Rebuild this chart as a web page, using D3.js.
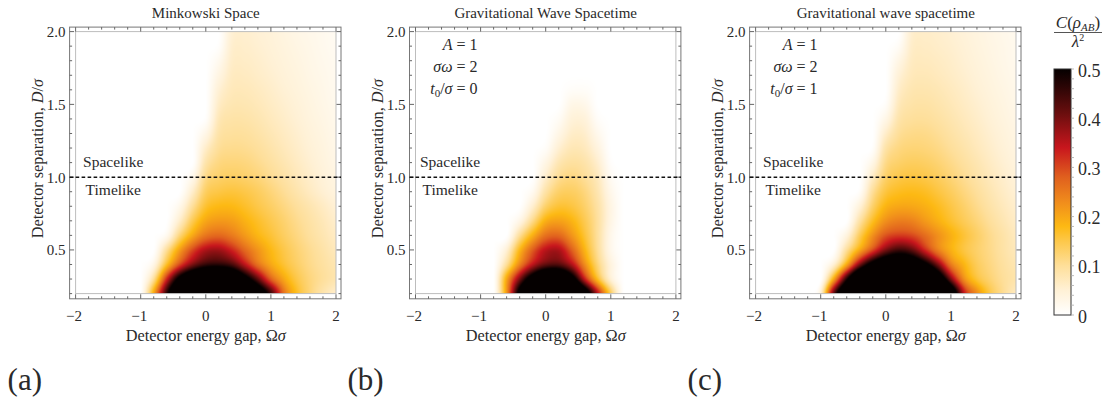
<!DOCTYPE html>
<html><head><meta charset="utf-8">
<script src="https://cdn.jsdelivr.net/npm/d3@7"></script>
<style>body{margin:0;background:#fff;}</style>
</head><body>
<svg id="chart" width="1109" height="398"></svg>
<script>
// ---------- data ----------
const omega = [-2.0,-1.8,-1.6,-1.4,-1.2,-1.0,-0.8,-0.6,-0.4,-0.2,0.0,0.2,0.4,0.6,0.8,1.0,1.2,1.4,1.6,1.8,2.0];
const separation = [2.0,1.9,1.8,1.7,1.6,1.5,1.4,1.3,1.2,1.1,1.0,0.9,0.8,0.7,0.6,0.5,0.4,0.3,0.2];

const minkowski = [
[0,0,0,0,0,0,0,0,0,0,0,0,.05,.055,.05,.045,.037,.03,.025,.02,.015],
[0,0,0,0,0,0,0,0,0,0,0,.005,.055,.058,.053,.047,.04,.033,.027,.021,.016],
[0,0,0,0,0,0,0,0,0,0,0,.02,.06,.062,.057,.05,.043,.036,.029,.023,.018],
[0,0,0,0,0,0,0,0,0,0,0,.035,.066,.067,.061,.054,.046,.039,.031,.025,.019],
[0,0,0,0,0,0,0,0,0,0,0,.05,.072,.073,.067,.059,.05,.042,.034,.027,.02],
[0,0,0,0,0,0,0,0,0,0,0,.062,.079,.079,.073,.064,.055,.046,.037,.029,.022],
[0,0,0,0,0,0,0,0,0,0,.005,.075,.088,.087,.08,.07,.06,.05,.04,.032,.024],
[0,0,0,0,0,0,0,0,0,0,.03,.087,.097,.096,.088,.077,.066,.055,.044,.035,.026],
[0,0,0,0,0,0,0,0,0,0,.06,.1,.107,.105,.097,.085,.072,.06,.048,.038,.028],
[0,0,0,0,0,0,0,0,0,0,.085,.115,.12,.117,.107,.094,.08,.066,.053,.041,.031],
[0,0,0,0,0,0,0,0,0,.025,.11,.13,.135,.13,.12,.105,.09,.074,.059,.046,.035],
[0,0,0,0,0,0,0,0,0,.06,.135,.152,.157,.15,.137,.12,.102,.084,.067,.052,.04],
[0,0,0,0,0,0,0,0,.025,.1,.163,.18,.18,.167,.15,.133,.115,.097,.081,.065,.05],
[0,0,0,0,0,0,0,0,.06,.145,.2,.215,.21,.188,.167,.147,.127,.107,.09,.074,.058],
[0,0,0,0,0,0,0,.02,.12,.2,.255,.27,.25,.215,.183,.16,.136,.115,.096,.08,.065],
[0,0,0,0,0,0,0,.1,.21,.3,.36,.37,.33,.27,.22,.18,.15,.125,.105,.088,.072],
[0,0,0,0,0,0,.03,.17,.3,.4,.46,.47,.44,.35,.26,.2,.162,.133,.11,.094,.08],
[0,0,0,0,0,0,.1,.33,.54,.68,.75,.75,.7,.56,.42,.28,.2,.15,.118,.098,.082],
[0,0,0,0,0,0,.2,.47,.72,.9,1,1,.95,.8,.62,.45,.26,.17,.12,.085,.06]
];

const gwT0 = [
[0,0,0,0,0,0,0,0,0,0,0,0,0,0,0,0,0,0,0,0,0],
[0,0,0,0,0,0,0,0,0,0,0,0,0,0,0,0,0,0,0,0,0],
[0,0,0,0,0,0,0,0,0,0,0,0,0,0,0,0,0,0,0,0,0],
[0,0,0,0,0,0,0,0,0,0,0,0,0,0,0,0,0,0,0,0,0],
[0,0,0,0,0,0,0,0,0,0,0,0,.008,.008,0,0,0,0,0,0,0],
[0,0,0,0,0,0,0,0,0,0,0,0,.028,.025,0,0,0,0,0,0,0],
[0,0,0,0,0,0,0,0,0,0,0,.012,.045,.043,.008,0,0,0,0,0,0],
[0,0,0,0,0,0,0,0,0,0,0,.03,.06,.057,.022,0,0,0,0,0,0],
[0,0,0,0,0,0,0,0,0,0,.008,.052,.076,.07,.038,0,0,0,0,0,0],
[0,0,0,0,0,0,0,0,0,0,.032,.078,.095,.086,.055,.005,0,0,0,0,0],
[0,0,0,0,0,0,0,0,0,0,.058,.103,.115,.1,.07,.015,0,0,0,0,0],
[0,0,0,0,0,0,0,0,0,.018,.09,.13,.135,.117,.08,.025,0,0,0,0,0],
[0,0,0,0,0,0,0,0,0,.055,.13,.16,.155,.13,.09,.033,0,0,0,0,0],
[0,0,0,0,0,0,0,0,.03,.11,.19,.205,.185,.145,.095,.032,0,0,0,0,0],
[0,0,0,0,0,0,0,0,.1,.19,.26,.27,.22,.16,.095,.025,0,0,0,0,0],
[0,0,0,0,0,0,0,.05,.18,.28,.35,.36,.28,.185,.1,.025,0,0,0,0,0],
[0,0,0,0,0,0,0,.1,.24,.35,.42,.43,.36,.23,.12,.04,0,0,0,0,0],
[0,0,0,0,0,0,0,.2,.4,.58,.72,.72,.57,.34,.17,.05,0,0,0,0,0],
[0,0,0,0,0,0,0,.22,.55,.8,.95,.95,.85,.6,.35,.14,0,0,0,0,0]
];

const gwT1 = [
[0,0,0,0,0,0,0,0,0,0,0,0,.055,.06,.057,.052,.045,.038,.031,.025,.02],
[0,0,0,0,0,0,0,0,0,0,0,.012,.06,.064,.06,.055,.048,.04,.033,.027,.021],
[0,0,0,0,0,0,0,0,0,0,0,.032,.066,.069,.065,.059,.051,.043,.035,.028,.022],
[0,0,0,0,0,0,0,0,0,0,0,.048,.072,.075,.07,.063,.055,.046,.038,.03,.024],
[0,0,0,0,0,0,0,0,0,0,0,.06,.08,.082,.077,.069,.06,.05,.041,.033,.026],
[0,0,0,0,0,0,0,0,0,0,.008,.072,.088,.09,.084,.075,.065,.055,.045,.036,.028],
[0,0,0,0,0,0,0,0,0,0,.03,.085,.098,.099,.092,.082,.071,.06,.049,.039,.031],
[0,0,0,0,0,0,0,0,0,0,.06,.1,.11,.11,.102,.09,.078,.066,.054,.043,.034],
[0,0,0,0,0,0,0,0,0,.005,.088,.115,.122,.12,.112,.099,.086,.072,.059,.047,.037],
[0,0,0,0,0,0,0,0,0,.03,.11,.13,.137,.134,.124,.11,.095,.08,.065,.052,.041],
[0,0,0,0,0,0,0,0,0,.065,.13,.15,.155,.15,.138,.122,.105,.088,.072,.058,.046],
[0,0,0,0,0,0,0,0,.008,.1,.155,.172,.176,.17,.155,.137,.117,.098,.08,.064,.051],
[0,0,0,0,0,0,0,0,.045,.13,.185,.2,.2,.19,.173,.152,.13,.108,.088,.071,.057],
[0,0,0,0,0,0,0,0,.09,.17,.225,.245,.24,.215,.19,.165,.142,.12,.098,.079,.063],
[0,0,0,0,0,0,0,.04,.14,.225,.29,.31,.3,.265,.225,.19,.16,.133,.108,.088,.07],
[0,0,0,0,0,0,0,.1,.2,.3,.4,.45,.42,.33,.245,.19,.155,.13,.11,.09,.073],
[0,0,0,0,0,0,.05,.2,.4,.56,.66,.68,.64,.54,.4,.25,.185,.14,.115,.095,.08],
[0,0,0,0,0,0,.2,.48,.75,.9,1,1,.95,.85,.65,.4,.23,.16,.125,.1,.085],
[0,0,0,0,0,.05,.42,.7,.9,1,1,1,1,1,1,.65,.35,.23,.15,.105,.07]
];

const panelTitles = ["Minkowski Space","Gravitational Wave Spacetime","Gravitational wave spacetime"];
const panelTags = ["(a)","(b)","(c)"];
const t0Values = [null, 0, 1];
const xTicks = [-2,-1,0,1,2];
const yTicks = [0.5,1.0,1.5,2.0];
const cbTicks = [0,0.1,0.2,0.3,0.4,0.5];
const colorStops = [0,0.05,0.1,0.15,0.18,0.23,0.28,0.34,0.41,0.465,0.5];
const colorValues = ["#ffffff","#fff1d6","#fedf9a","#fdc84a","#fdb913","#f08c1c","#e0601e","#c8161d","#6a0e0e","#2a0505","#050000"];

// ---------- layout ----------
const datasets = [minkowski, gwT0, gwT1];
const panelLeft = [75.6, 415.5, 755.6];
const plotW = 260.4, plotTop = 31.6, plotBottom = 293.6;
const padL = 6, padR = 5, padT = 4.5, padB = 5.2;
const labelDx = [7.5, 4.5, 7.5];
const FONT = "'Liberation Serif'";
const INK = "#2a2a2a";

const svg = d3.select("#chart");
const color = d3.scaleLinear().domain(colorStops).range(colorValues).clamp(true);
const LUTN = 1000;
const lut = d3.range(LUTN + 1).map(i => d3.rgb(color(i / LUTN * 0.5)));

function cr(p0, p1, p2, p3, t) {
  return 0.5 * (2*p1 + (-p0 + p2)*t + (2*p0 - 5*p1 + 4*p2 - p3)*t*t + (-p0 + 3*p1 - 3*p2 + p3)*t*t*t);
}
// smooth (Catmull-Rom) rendering of the grid
function sample(grid, om, d) {
  const nx = omega.length, ny = separation.length;
  let fx = (om - omega[0]) / (omega[1] - omega[0]);
  let fy = (separation[0] - d) / (separation[0] - separation[1]);
  fx = Math.max(0, Math.min(nx - 1.000001, fx));
  fy = Math.max(0, Math.min(ny - 1.000001, fy));
  const i = Math.floor(fx), j = Math.floor(fy), tx = fx - i, ty = fy - j;
  const i0 = Math.max(0, i - 1), i3 = Math.min(nx - 1, i + 2);
  const r = [];
  for (let m = -1; m <= 2; m++) {
    const row = grid[Math.max(0, Math.min(ny - 1, j + m))];
    r.push(cr(row[i0], row[i], row[i + 1], row[i3], tx));
  }
  return Math.max(0, cr(r[0], r[1], r[2], r[3], ty));
}

function txt(g) { return g.append("text").style("font-family", FONT).attr("fill", INK); }

datasets.forEach((grid, k) => {
  const x = d3.scaleLinear().domain([-2, 2]).range([panelLeft[k], panelLeft[k] + plotW]);
  const y = d3.scaleLinear().domain([0.2, 2.0]).range([plotBottom, plotTop]);
  const g = svg.append("g");

  const x0 = x(-2), x1 = x(2), y0 = y(2.0), y1 = y(0.2);
  const S = 2;
  const W = Math.round((x1 - x0) * S), H = Math.round((y1 - y0) * S);
  const cv = document.createElement("canvas");
  cv.width = W; cv.height = H;
  const ctx = cv.getContext("2d");
  const img = ctx.createImageData(W, H);
  const data = img.data;
  for (let py = 0; py < H; py++) {
    const d = y.invert(y0 + (py + 0.5) * (y1 - y0) / H);
    for (let px = 0; px < W; px++) {
      const om = x.invert(x0 + (px + 0.5) * (x1 - x0) / W);
      const v = sample(grid, om, d);
      const c = lut[Math.min(LUTN, Math.round(v / 0.5 * LUTN))];
      const o = (py * W + px) * 4;
      data[o] = c.r; data[o+1] = c.g; data[o+2] = c.b; data[o+3] = 255;
    }
  }
  ctx.putImageData(img, 0, 0);
  g.append("image").attr("x", x0).attr("y", y0).attr("width", x1 - x0).attr("height", y1 - y0)
    .attr("preserveAspectRatio", "none").attr("href", cv.toDataURL());

  g.append("rect").attr("x", x0).attr("y", y0).attr("width", x1 - x0).attr("height", y1 - y0)
    .attr("fill", "none").attr("stroke", "#bdbdbd").attr("stroke-width", 1);

  const fl = x0 - padL, fr = x1 + padR, ft = y0 - padT, fb = y1 + padB;
  g.append("rect").attr("x", fl).attr("y", ft).attr("width", fr - fl).attr("height", fb - ft)
    .attr("fill", "none").attr("stroke", "#777").attr("stroke-width", 1);

  const xMinor = d3.range(-2, 2.0001, 0.2).map(v => +v.toFixed(2));
  xMinor.forEach(v => {
    const major = xTicks.some(t => Math.abs(t - v) < 1e-6);
    const len = major ? 4.5 : 2.5;
    g.append("line").attr("x1", x(v)).attr("x2", x(v)).attr("y1", fb).attr("y2", fb - len).attr("stroke", "#666");
    g.append("line").attr("x1", x(v)).attr("x2", x(v)).attr("y1", ft).attr("y2", ft + len).attr("stroke", "#666");
  });
  const yMinor = d3.range(0.2, 2.0001, 0.1).map(v => +v.toFixed(2));
  yMinor.forEach(v => {
    const major = yTicks.some(t => Math.abs(t - v) < 1e-6);
    const len = major ? 4.5 : 2.5;
    g.append("line").attr("y1", y(v)).attr("y2", y(v)).attr("x1", fl).attr("x2", fl + len).attr("stroke", "#666");
    g.append("line").attr("y1", y(v)).attr("y2", y(v)).attr("x1", fr).attr("x2", fr - len).attr("stroke", "#666");
  });

  xTicks.forEach(v => {
    txt(g).attr("x", x(v) - (v < 0 ? 1.5 : 0)).attr("y", 321).attr("text-anchor", "middle")
      .attr("font-size", 15).text(v < 0 ? "\u2212" + Math.abs(v) : String(v));
  });
  yTicks.forEach(v => {
    txt(g).attr("x", fl - 4).attr("y", y(v) + 5.5).attr("text-anchor", "end")
      .attr("font-size", 15).text(v.toFixed(1));
  });

  txt(g).attr("x", (x0 + x1) / 2).attr("y", 17.5).attr("text-anchor", "middle")
    .attr("font-size", 15).text(panelTitles[k]);

  const xl = txt(g).attr("x", (x0 + x1) / 2).attr("y", 341).attr("text-anchor", "middle").attr("font-size", 16.3);
  xl.append("tspan").text("Detector energy gap, \u03A9");
  xl.append("tspan").attr("font-style", "italic").text("\u03C3");

  const yl = txt(g).attr("transform", `translate(${x0 - 33},${(y0 + y1) / 2 - 4}) rotate(-90)`)
    .attr("text-anchor", "middle").attr("font-size", 16.3);
  yl.append("tspan").text("Detector separation, ");
  yl.append("tspan").attr("font-style", "italic").text("D");
  yl.append("tspan").text("/");
  yl.append("tspan").attr("font-style", "italic").text("\u03C3");

  txt(g).attr("x", x0 - 68).attr("y", 390).attr("font-size", 31).text(panelTags[k]);

  g.append("line").attr("x1", fl).attr("x2", fr).attr("y1", y(1.0)).attr("y2", y(1.0))
    .attr("stroke", "#111").attr("stroke-width", 1.5).attr("stroke-dasharray", "3.6,2.4");
  txt(g).attr("x", x0 + labelDx[k]).attr("y", y(1.0) - 10).attr("font-size", 15.5).text("Spacelike");
  txt(g).attr("x", x0 + labelDx[k] + 2.5).attr("y", y(1.0) + 18).attr("font-size", 15.5).text("Timelike");

  if (t0Values[k] !== null) {
    const rx = x0 + 62;
    const p1 = txt(g).attr("x", rx).attr("y", 49.5).attr("text-anchor", "end").attr("font-size", 16);
    p1.append("tspan").attr("font-style", "italic").text("A");
    p1.append("tspan").text(" = 1");
    const p2 = txt(g).attr("x", rx).attr("y", 72).attr("text-anchor", "end").attr("font-size", 16);
    p2.append("tspan").attr("font-style", "italic").text("\u03C3\u03C9");
    p2.append("tspan").text(" = 2");
    const p3 = txt(g).attr("x", rx).attr("y", 94).attr("text-anchor", "end").attr("font-size", 16);
    p3.append("tspan").attr("font-style", "italic").text("t");
    p3.append("tspan").attr("font-size", 11).attr("dy", 3).text("0");
    p3.append("tspan").attr("dy", -3).text("/");
    p3.append("tspan").attr("font-style", "italic").text("\u03C3");
    p3.append("tspan").text(" = " + t0Values[k]);
  }
});

// ---------- colour bar ----------
const cbX = 1054, cbW = 17;
const cbY = d3.scaleLinear().domain([0, 0.5]).range([315, 69]);
const defs = svg.append("defs");
const grad = defs.append("linearGradient").attr("id", "cbgrad").attr("x1", 0).attr("y1", 1).attr("x2", 0).attr("y2", 0);
colorStops.forEach((s, i) => grad.append("stop").attr("offset", s / 0.5).attr("stop-color", colorValues[i]));
svg.append("rect").attr("x", cbX).attr("y", cbY(0.5)).attr("width", cbW).attr("height", cbY(0) - cbY(0.5))
  .attr("fill", "url(#cbgrad)").attr("stroke", "#333").attr("stroke-width", 1);
d3.range(0, 0.5001, 0.02).forEach(v => {
  svg.append("line").attr("x1", cbX + cbW).attr("x2", cbX + cbW + 3).attr("y1", cbY(v)).attr("y2", cbY(v))
    .attr("stroke", "#aaa").attr("stroke-width", 0.8);
});
cbTicks.forEach(v => {
  txt(svg).attr("x", 1078).attr("y", cbY(v) + 7.5).attr("font-size", 18)
    .text(v === 0 ? "0" : v.toFixed(1));
});
const num = txt(svg).attr("x", 1078).attr("y", 28).attr("text-anchor", "middle").attr("font-size", 17);
num.append("tspan").attr("font-style", "italic").text("C");
num.append("tspan").text("(");
num.append("tspan").attr("font-style", "italic").text("\u03C1");
num.append("tspan").attr("font-style", "italic").attr("font-size", 11).attr("dy", 3).text("AB");
num.append("tspan").attr("dy", -3).text(")");
svg.append("line").attr("x1", 1054).attr("x2", 1102).attr("y1", 32.5).attr("y2", 32.5).attr("stroke", INK).attr("stroke-width", 0.8);
const den = txt(svg).attr("x", 1078).attr("y", 47).attr("text-anchor", "middle").attr("font-size", 17);
den.append("tspan").attr("font-style", "italic").text("\u03BB");
den.append("tspan").attr("font-size", 10).attr("dy", -6).text("2");
</script>
</body></html>
